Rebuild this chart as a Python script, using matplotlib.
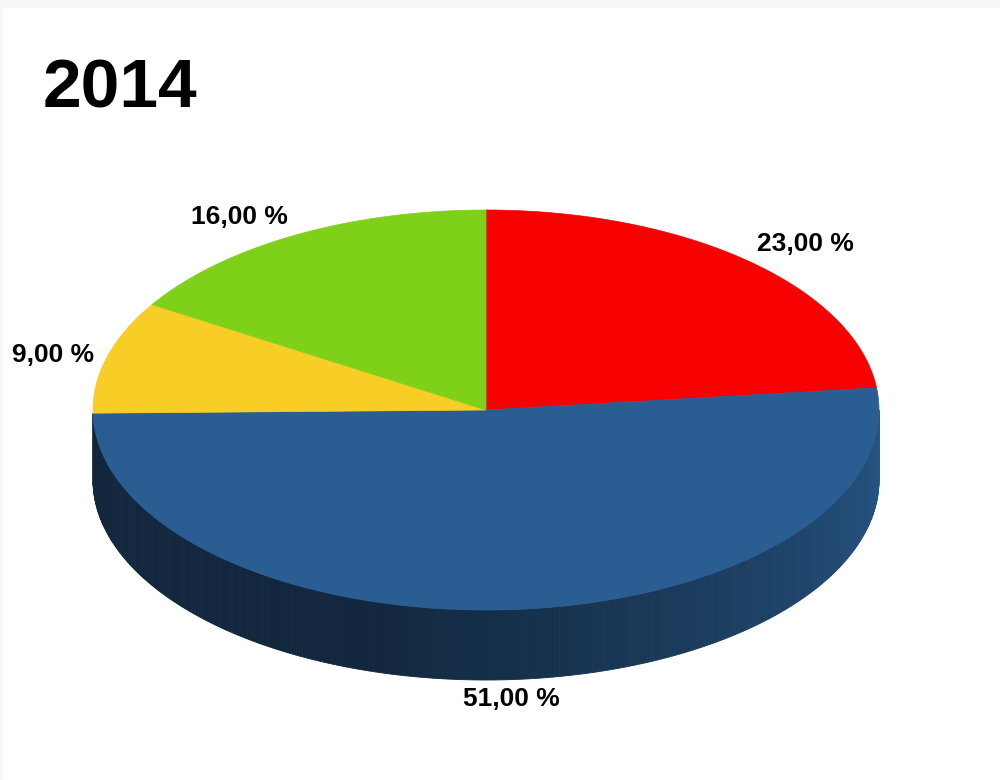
import numpy as np
import matplotlib.pyplot as plt
from matplotlib.patches import Polygon, Rectangle
from matplotlib.colors import to_rgb

plt.rcParams['font.family'] = ['Liberation Sans', 'DejaVu Sans']

# data
values = [23, 51, 9, 16]
colors = ["#f70000", "#2a5e93", "#f8cd26", "#7ed019"]
labels = [f"{v:.2f} %".replace(".", ",") for v in values]
title = "2014"

# layout of the 3d pie (pixel units)
cx, cy = 486, 410
rx, ry = 393, 200
depth = 70
label_r = 1.035


def pt(theta_deg, r=1.0, dz=0.0):
    t = np.radians(theta_deg)
    return cx + r * rx * np.cos(t), cy - r * ry * np.sin(t) + dz


def shade(theta):
    # darker on the left/front, lighter towards the right edge
    if theta < 255:
        return 0.42
    return 0.42 + 0.48 * min(1.0, (theta - 255) / 105.0)


fig = plt.figure(figsize=(10, 7.8), dpi=100, facecolor="#f8f7f5")
ax = fig.add_axes([0, 0, 1, 1])
ax.set_xlim(0, 1000)
ax.set_ylim(780, 0)
ax.axis("off")
ax.add_patch(Rectangle((3, 8), 997, 772, facecolor="white", edgecolor="none"))

fracs = np.array(values, dtype=float) / sum(values)
starts = 90 - 360 * np.concatenate([[0], np.cumsum(fracs)[:-1]])
ends = starts - 360 * fracs

# side wall (front half: angles 180..360)
for s, e, col in zip(starts, ends, colors):
    lo, hi = min(s, e), max(s, e)
    for shift in (-360, 0, 360):
        a0 = max(lo + shift, 180)
        a1 = min(hi + shift, 360)
        if a1 - a0 < 2:
            continue
        th = np.linspace(a0, a1, max(2, int((a1 - a0) * 2)))
        base = np.array(to_rgb(col))
        for t0, t1 in zip(th[:-1], th[1:]):
            x0, y0 = pt(t0)
            x1, y1 = pt(t1)
            c = base * shade(0.5 * (t0 + t1))
            ax.add_patch(Polygon([(x0, y0), (x1, y1), (x1, y1 + depth), (x0, y0 + depth)],
                                 closed=True, facecolor=c, edgecolor=c, lw=0.6))

# top face
for s, e, col in zip(starts, ends, colors):
    th = np.linspace(s, e, 200)
    xs, ys = pt(th)
    verts = [(cx, cy)] + list(zip(xs, ys))
    ax.add_patch(Polygon(verts, closed=True, facecolor=col, edgecolor=col, lw=0.5))

# labels
for s, e, lab in zip(starts, ends, labels):
    mid = 0.5 * (s + e)
    x, y = pt(mid, label_r)
    c, sn = np.cos(np.radians(mid)), np.sin(np.radians(mid))
    ha = "left" if c > 0.15 else ("right" if c < -0.15 else "center")
    va = "bottom" if sn > 0.5 else ("top" if sn < -0.5 else "center")
    if sn < 0:
        y += depth
    ax.text(x, y, lab, ha=ha, va=va, fontsize=19, fontweight="bold", color="black")

ax.text(43, 108, title, ha="left", va="baseline", fontsize=50, fontweight="bold", color="black")

fig.savefig("out.png", dpi=100, facecolor=fig.get_facecolor())
